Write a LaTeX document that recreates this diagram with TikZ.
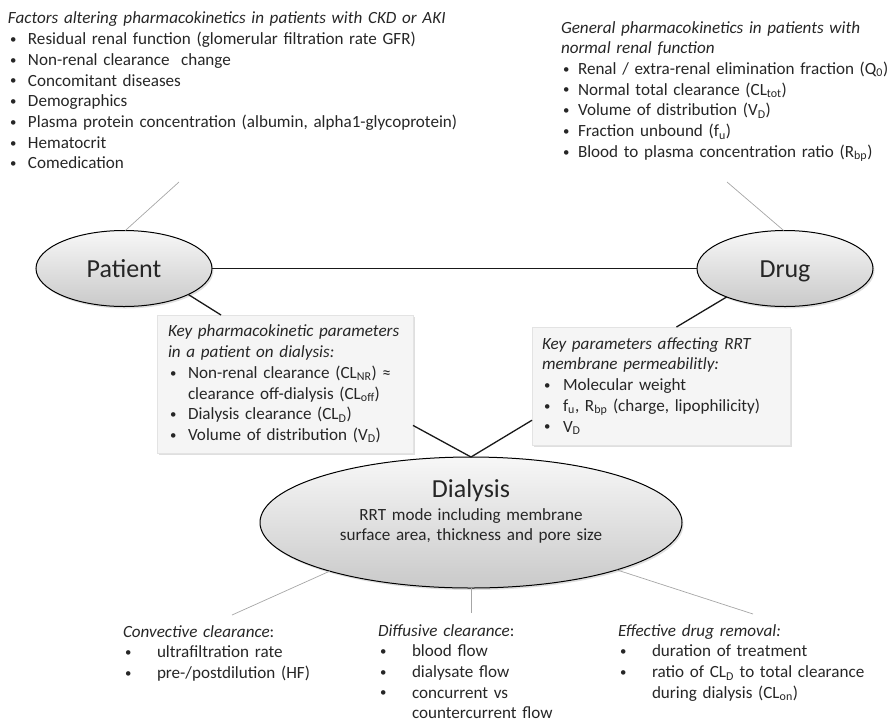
\documentclass[tikz,border=0pt]{standalone}
\usepackage{fontspec}
\setmainfont{Carlito}
\usepackage{tikz}
\usetikzlibrary{positioning,shapes.geometric,shadows,calc}
\newcommand{\bodyfont}{\fontsize{17.1}{20.7}\selectfont}
\newcommand{\bigfont}{\fontsize{26}{30}\selectfont}
\newcommand{\bul}[1][20pt]{\makebox[#1][l]{\hspace{2pt}\raisebox{1.2pt}{\scalebox{0.75}{\textbullet}}}\ignorespaces}

\begin{document}
\begin{tikzpicture}[x=1pt,y=-1pt,every node/.style={outer sep=0pt,text=black!85}]
\tikzset{blob/.style={ellipse,draw=black,line width=1pt,top color=gray!6,bottom color=gray!42,inner sep=0pt,minimum width=176pt,minimum height=76pt,font=\bigfont,text height=17pt,text depth=0pt,drop shadow={shadow xshift=1.5pt,shadow yshift=-2pt,opacity=0.25}},
  infobox/.style={rectangle,draw=gray!22,fill=gray!8,font=\bodyfont,align=left,inner xsep=11pt,inner ysep=0pt,anchor=north west,drop shadow={shadow xshift=1.5pt,shadow yshift=-2pt,opacity=0.25}},
  txt/.style={inner sep=0pt,font=\bodyfont,align=left,anchor=base west},
  thinline/.style={gray!70,line width=0.7pt},
  boldline/.style={black!90,line width=1.3pt}}

\useasboundingbox (0,0) rectangle (891,724);

  % the three players
  \node(PT) [blob] at (124,268.5) {Patient};
  \node(DR) [blob,right=485pt of PT] {Drug};
  \node(DL) [blob,minimum width=422pt,minimum height=131pt] at (471,522.5) {};
  \node(DLT) [inner sep=0pt,text width=300pt,align=center,font=\bodyfont,anchor=base] at (471,497)
    {{\bigfont Dialysis}\\[2.3pt]RRT mode including membrane\\surface area, thickness and pore size};

  % factor lists on top
  \node(PF) [txt,text width=480pt] at (8,23) {\textit{Factors altering pharmacokinetics in patients with CKD or AKI}\\[1pt]
    \bul Residual renal function (glomerular filtration rate GFR)\\
    \bul Non-renal clearance\ \ change\\
    \bul Concomitant diseases\\
    \bul Demographics\\
    \bul Plasma protein concentration (albumin, alpha1-glycoprotein)\\
    \bul Hematocrit\\
    \bul Comedication};
  \node(DF) [txt,text width=380pt] at (561,33) {\textit{General pharmacokinetics in patients with}\\
    \textit{normal renal function}\\
    \bul[17pt] Renal / extra-renal elimination fraction (Q\textsubscript{0})\\
    \bul[17pt] Normal total clearance (CL\textsubscript{tot})\\
    \bul[17pt] Volume of distribution (V\textsubscript{D})\\
    \bul[17pt] Fraction unbound (f\textsubscript{u})\\
    \bul[17pt] Blood to plasma concentration ratio (R\textsubscript{bp})};

  % key parameter boxes
  \node(KPB) [infobox,text width=234pt,minimum height=138pt] at (157,315) {\mbox{\textit{Key pharmacokinetic parameters}}\\
    \textit{in a patient on dialysis:}\\
    \bul Non-renal clearance (CL\textsubscript{NR}) ≈\\
    \hspace*{20pt}clearance off-dialysis (CL\textsubscript{off})\\
    \bul Dialysis clearance (CL\textsubscript{D})\\
    \bul Volume of distribution (V\textsubscript{D})};
  \node(KRB) [infobox,inner xsep=10pt,text width=238pt,minimum height=118pt] at (532,327) {\textit{Key parameters affecting RRT}\\
    \textit{membrane permeabilitly:}\\
    \bul[21pt] Molecular weight\\
    \bul[21pt] \mbox{f\textsubscript{u}, R\textsubscript{bp} (charge, lipophilicity)}\\
    \bul[21pt] V\textsubscript{D}};

  % clearance lists below
  \node(CC) [txt,text width=220pt] at (123,637) {\textit{Convective clearance}:\\
    \bul[34pt] ultrafiltration rate\\
    \bul[34pt] pre-/postdilution (HF)};
  \node(DC) [txt,text width=220pt] at (378,636) {\textit{Diffusive clearance}:\\
    \bul[34pt] blood flow\\
    \bul[34pt] dialysate flow\\
    \bul[34pt] concurrent vs\\
    \hspace*{34pt}countercurrent flow};
  \node(ER) [txt,text width=265pt] at (618,636) {\textit{Effective drug removal:}\\
    \bul[34pt] duration of treatment\\
    \bul[34pt] ratio of CL\textsubscript{D} to total clearance\\
    \hspace*{34pt}during dialysis (CL\textsubscript{on})};

  % connectors
  \coordinate(PFE) at (179,182);
  \coordinate(DFE) at (727,182);
  \draw[thinline] (PFE) -- (PT.88);
  \draw[thinline] (DFE) -- (DR.92);
  \draw[boldline] (PT) -- (DR);
  \draw[boldline] (PT.-22) -- ($(KPB.north west)!0.25!(KPB.north east)$);
  \draw[boldline] (DR.206) -- ($(KRB.north west)!0.56!(KRB.north east)$);
  \draw[boldline] ($(KPB.north east)!0.8!(KPB.south east)$) -- (DL.north);
  \draw[boldline] ($(KRB.north west)!0.79!(KRB.south west)$) -- (DL.north);

  \coordinate(CCE) at (232,615);
  \coordinate(DCE) at (471,613);
  \coordinate(ERE) at (753,614);
  \draw[thinline] (DL.199) -- (CCE);
  \draw[thinline] (DL.south) -- (DCE);
  \draw[thinline] (DL.-18) -- (ERE);
\end{tikzpicture}
\end{document}
